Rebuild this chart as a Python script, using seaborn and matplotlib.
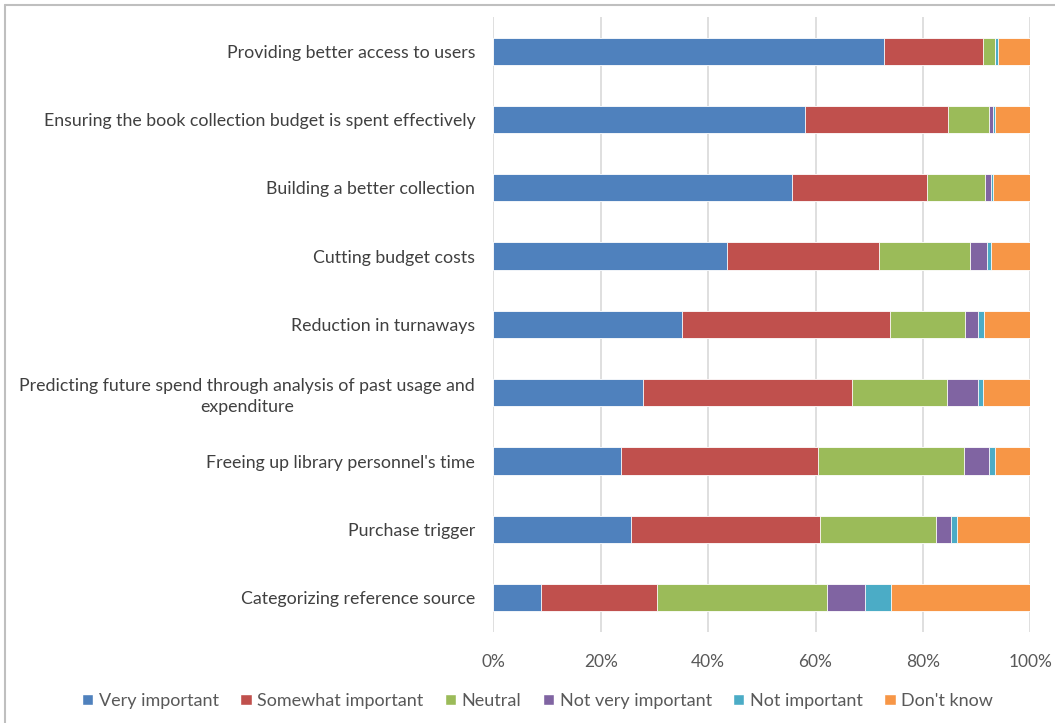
import matplotlib
matplotlib.use("Agg")
import matplotlib.pyplot as plt
import matplotlib.patches as mpatches
import matplotlib.lines as mlines
import numpy as np
import pandas as pd
import seaborn as sns

# Survey items (top to bottom) and response shares in percent
categories = [
    "Providing better access to users",
    "Ensuring the book collection budget is spent effectively",
    "Building a better collection",
    "Cutting budget costs",
    "Reduction in turnaways",
    "Predicting future spend through analysis of past usage and\nexpenditure",
    "Freeing up library personnel's time",
    "Purchase trigger",
    "Categorizing reference source",
]
series_names = ["Very important", "Somewhat important", "Neutral",
                "Not very important", "Not important", "Don't know"]

very_important     = [72.8, 58.1, 55.7, 43.6, 35.2, 27.8, 23.8, 25.7, 8.9]
somewhat_important = [18.3, 26.6, 25.1, 28.3, 38.7, 39.0, 36.6, 35.2, 21.6]
neutral            = [2.4, 7.6, 10.7, 16.8, 14.0, 17.6, 27.2, 21.5, 31.6]
not_very_important = [0.0, 0.8, 1.2, 3.2, 2.4, 5.9, 4.7, 2.8, 7.1]
not_important      = [0.4, 0.4, 0.4, 0.8, 1.1, 0.8, 1.2, 1.2, 4.8]
dont_know          = [6.1, 6.5, 6.9, 7.3, 8.6, 8.9, 6.5, 13.6, 26.0]

x_ticks = [0, 20, 40, 60, 80, 100]
x_tick_labels = ["0%", "20%", "40%", "60%", "80%", "100%"]

colors = ["#4F81BD", "#C0504D", "#9BBB59", "#8064A2", "#4BACC6", "#F79646"]

df = pd.DataFrame(
    {name: vals for name, vals in zip(
        series_names,
        [very_important, somewhat_important, neutral,
         not_very_important, not_important, dont_know])},
    index=categories,
)
cum = df.cumsum(axis=1)

sns.set_theme(style="white")
plt.rcParams["font.family"] = ["Lato", "DejaVu Sans"]

W, H = 1055, 723
fig = plt.figure(figsize=(W / 100, H / 100), dpi=100)
ax = fig.add_axes([493.3 / W, 1 - 632 / H, 537 / W, (632 - 17) / H])

# Stacked bars: draw cumulative totals from the last series back to the first
for name, color in zip(reversed(series_names), reversed(colors)):
    plot_df = pd.DataFrame({"category": categories, "value": cum[name].values})
    sns.barplot(data=plot_df, x="value", y="category", orient="h",
                color=color, width=0.4, ax=ax, edgecolor="white",
                linewidth=0.6, saturation=1)

ax.set_xlim(0, 100)
ax.set_xticks(x_ticks)
ax.set_xticklabels(x_tick_labels)
ax.set_xlabel("")
ax.set_ylabel("")
ax.grid(axis="x", color="#D9D9D9", linewidth=1.2)
ax.set_axisbelow(True)
for s in ax.spines.values():
    s.set_visible(False)
ax.tick_params(axis="x", length=0, pad=15.5, labelsize=12.5, labelcolor="#595959")
ax.tick_params(axis="y", length=0, pad=13, labelsize=12.8, labelcolor="#404040")
for lbl in ax.get_yticklabels():
    lbl.set_horizontalalignment("right")
    lbl.set_multialignment("center")
    lbl.set_linespacing(1.35)

handles = [mpatches.Patch(facecolor=c, label=n) for n, c in zip(series_names, colors)]
leg = fig.legend(handles=handles, loc="center", bbox_to_anchor=(537.5 / W, 1 - 701 / H),
                 ncol=6, frameon=False, fontsize=13, handlelength=0.62,
                 handleheight=0.62, handletextpad=0.3, columnspacing=1.2)
for t in leg.get_texts():
    t.set_color("#595959")

# Chart frame (top and left edges lie inside the canvas)
frame_kw = dict(transform=fig.transFigure, color="#BFBFBF", linewidth=1.5)
fig.add_artist(mlines.Line2D([5 / W, 1], [1 - 5 / H, 1 - 5 / H], **frame_kw))
fig.add_artist(mlines.Line2D([5 / W, 5 / W], [0, 1 - 5 / H], **frame_kw))

fig.savefig("out.png", dpi=100)
